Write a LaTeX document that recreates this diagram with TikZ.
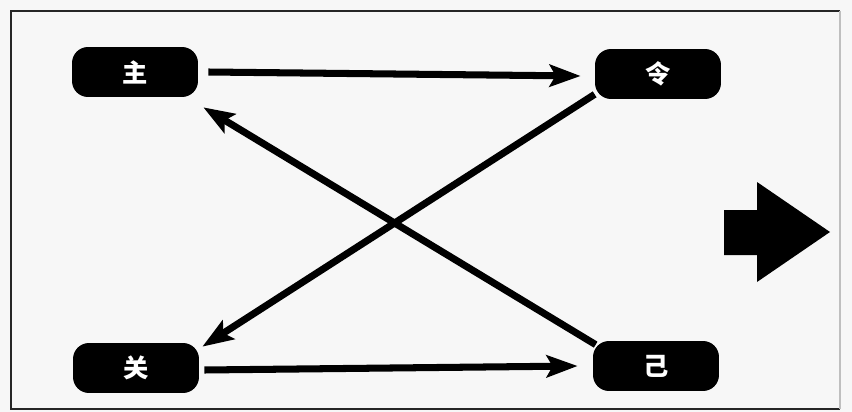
\documentclass[tikz,border=0pt]{standalone}
\usepackage{fontspec}
\newfontfamily\cjk{Noto Sans CJK SC}
\usepackage{tikz}
\usetikzlibrary{arrows.meta, positioning, calc}
\tikzstyle{arrow} = [line width=4pt,-{Stealth[length=0.62cm,width=0.44cm,inset=0.12cm]}]
\tikzstyle{word} = [rectangle, rounded corners=0.32cm, minimum width=2.52cm, minimum height=1cm, text centered, fill=black, text=white, font=\cjk\Large\bfseries]

\begin{document}
\begin{tikzpicture}[x=0.02cm, y=-0.02cm]
    % frame
    \fill[gray!6] (0,0) rectangle (852,412);
    \useasboundingbox (0,0) rectangle (852,412);
    \draw[line width=1.6pt, black!85] (840,11) -- (11,11) -- (11,409) -- (840,409);
    \draw[line width=0.8pt, black!25] (840,11) -- (840,409);

    % four words
    \node (tl) [word] at (135,72) {主};
    \node (tr) [word] at (658,74) {令};
    \node (bl) [word] at (136,368) {关};
    \node (br) [word] at (656,366) {己};

    % cycle
    \draw [arrow] (tl.east) ++(0.2cm,0) -- ($(tr.west)+(-0.28cm,-0.04cm)$);
    \draw [arrow] ($(tr.south west)+(0cm,0.1cm)$) -- ($(bl.north east)+(0.06cm,-0.08cm)$);
    \draw [arrow] (bl.east) ++(0.1cm,-0.04cm) -- ($(br.west)+(-0.3cm,0cm)$);
    \draw [arrow] ($(br.north west)+(0.06cm,-0.08cm)$) -- ($(tl.south east)+(0.1cm,-0.2cm)$);

    % result
    \fill (724,210) -- (757,210) -- (757,182) -- (830,232) -- (757,282) -- (757,255) -- (724,255) -- cycle;
\end{tikzpicture}
\end{document}
